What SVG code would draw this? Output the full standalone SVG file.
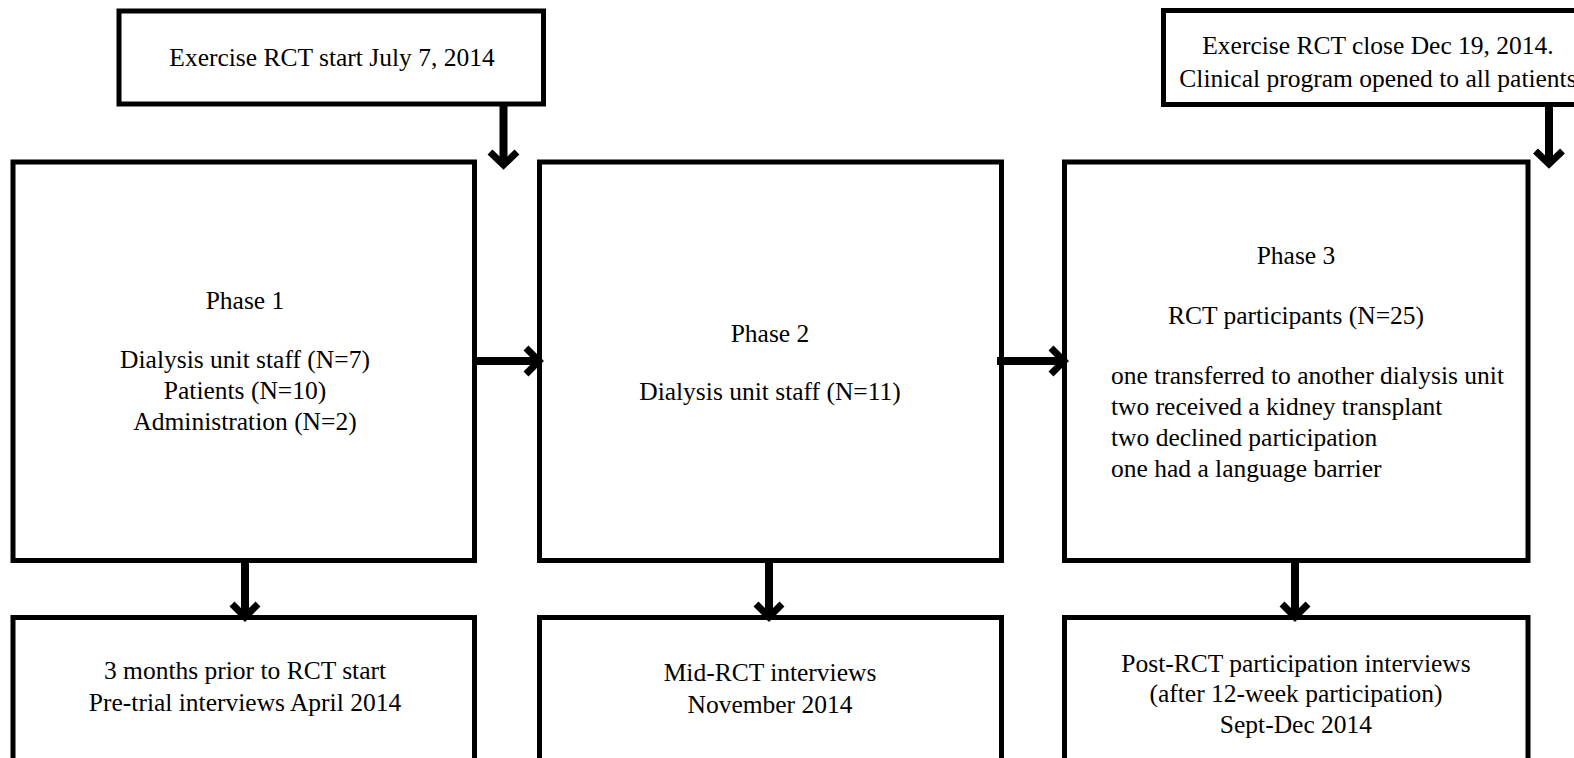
<svg xmlns="http://www.w3.org/2000/svg" width="1574" height="758" viewBox="0 0 1574 758">
<style>
.box{fill:#fff;stroke:#000;stroke-width:5}
.t{font-family:"Liberation Serif","Times New Roman",serif;font-size:25.5px;fill:#000}
.c{text-anchor:middle}
.conn{stroke:#000;stroke-width:8;fill:none}
.head{stroke:#000;stroke-width:7;fill:none;stroke-linejoin:miter}
</style>
<rect width="1574" height="758" fill="#fff"/>
<g id="start">
<rect class="box" x="119" y="11" width="424.5" height="93"/>
<text class="t c" x="332" y="66">Exercise RCT start July 7, 2014</text>
</g>
<g id="close">
<rect class="box" x="1163.5" y="10.5" width="440" height="94"/>
<text class="t c" x="1378" y="54">Exercise RCT close Dec 19, 2014.</text>
<text class="t c" x="1378" y="87">Clinical program opened to all patients</text>
</g>
<g id="phase1">
<rect class="box" x="13" y="162" width="461.5" height="398.5"/>
<text class="t c" x="245" y="309">Phase 1</text>
<text class="t c" x="245" y="368">Dialysis unit staff (N=7)</text>
<text class="t c" x="245" y="399">Patients (N=10)</text>
<text class="t c" x="245" y="430">Administration (N=2)</text>
</g>
<g id="phase2">
<rect class="box" x="539.5" y="162" width="462" height="398.5"/>
<text class="t c" x="770" y="342">Phase 2</text>
<text class="t c" x="770" y="400">Dialysis unit staff (N=11)</text>
</g>
<g id="phase3">
<rect class="box" x="1064.5" y="162" width="463.5" height="398.5"/>
<text class="t c" x="1296" y="264">Phase 3</text>
<text class="t c" x="1296" y="324">RCT participants (N=25)</text>
<text class="t" x="1111" y="384">one transferred to another dialysis unit</text>
<text class="t" x="1111" y="415">two received a kidney transplant</text>
<text class="t" x="1111" y="446">two declined participation</text>
<text class="t" x="1111" y="477">one had a language barrier</text>
</g>
<g id="pre">
<rect class="box" x="13" y="617.5" width="461.5" height="200"/>
<text class="t c" x="245" y="679">3 months prior to RCT start</text>
<text class="t c" x="245" y="711">Pre-trial interviews April 2014</text>
</g>
<g id="mid">
<rect class="box" x="539.5" y="617.5" width="462" height="200"/>
<text class="t c" x="770" y="681">Mid-RCT interviews</text>
<text class="t c" x="770" y="713">November 2014</text>
</g>
<g id="post">
<rect class="box" x="1064.5" y="617.5" width="463.5" height="200"/>
<text class="t c" x="1296" y="672">Post-RCT participation interviews</text>
<text class="t c" x="1296" y="702">(after 12-week participation)</text>
<text class="t c" x="1296" y="733">Sept-Dec 2014</text>
</g>
<g id="connectors">
<path class="conn" d="M503.5,104 V164"/>
<path class="head" d="M490,152 L503.5,165 L517,152"/>
<path class="conn" d="M1549,104 V163"/>
<path class="head" d="M1535.5,151 L1549,164 L1562.5,151"/>
<path class="conn" d="M473,361 H536"/>
<path class="head" d="M526,348 L539,361 L526,374"/>
<path class="conn" d="M997,361 H1061"/>
<path class="head" d="M1051,348 L1064,361 L1051,374"/>
<path class="conn" d="M245,560 V616"/>
<path class="head" d="M232,604 L245,617 L258,604"/>
<path class="conn" d="M769,560 V616"/>
<path class="head" d="M756,604 L769,617 L782,604"/>
<path class="conn" d="M1295,560 V616"/>
<path class="head" d="M1282,604 L1295,617 L1308,604"/>
</g>
</svg>
